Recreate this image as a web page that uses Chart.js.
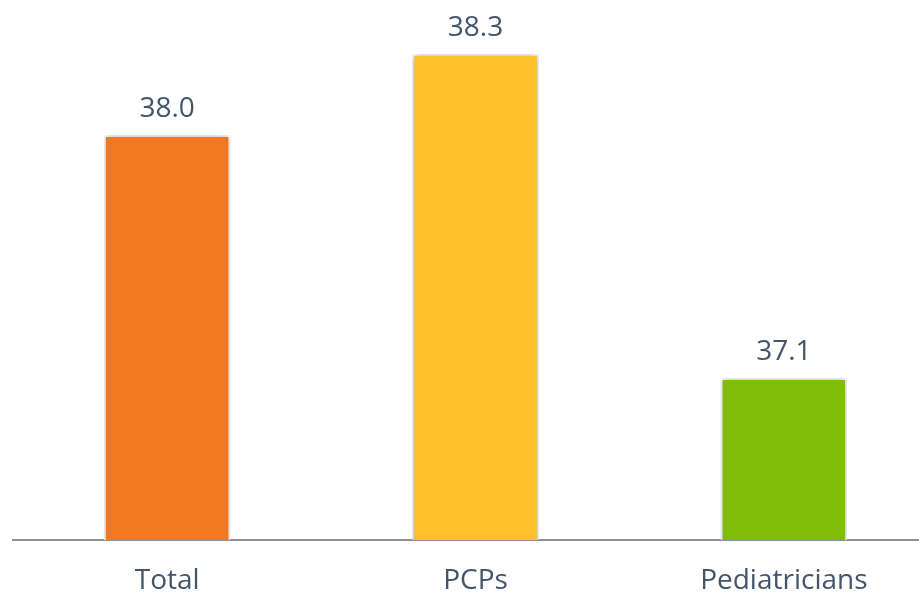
<!DOCTYPE html>
<html>
<head>
<meta charset="utf-8">
<script src="https://cdn.jsdelivr.net/npm/chart.js@4/dist/chart.umd.min.js"></script>
<style>
html,body{margin:0;padding:0;background:#fff;overflow:hidden;width:919px;height:593px;}
canvas{display:block;}
</style>
</head>
<body>
<canvas id="c" width="938" height="593"></canvas>
<script>
const categories = ["Total", "PCPs", "Pediatricians"];
const values = [38.0, 38.3, 37.1];
const barColors = ["#F47721", "#FFC02B", "#7FBD08"];
const valueLabels = ["38.0", "38.3", "37.1"];

const textColor = "#44546A";
const fontFamily = "'Open Sans', 'Liberation Sans', sans-serif";

const shadowPlugin = {
  id: 'shadow',
  beforeDatasetsDraw(chart) {
    const ctx = chart.ctx;
    ctx.save();
    ctx.shadowColor = 'rgba(0,0,0,0.35)';
    ctx.shadowBlur = 7;
    ctx.shadowOffsetX = 0;
    ctx.shadowOffsetY = 0;
  },
  afterDatasetsDraw(chart) {
    chart.ctx.restore();
  }
};

const labelPlugin = {
  id: 'valueLabels',
  afterDraw(chart) {
    const ctx = chart.ctx;
    const meta = chart.getDatasetMeta(0);
    ctx.save();
    ctx.font = "28px " + fontFamily;
    ctx.fillStyle = textColor;
    ctx.textAlign = 'center';
    ctx.textBaseline = 'alphabetic';
    meta.data.forEach((bar, i) => {
      ctx.fillText(valueLabels[i], bar.x, bar.y - 18);
    });
    ctx.restore();
  }
};

new Chart(document.getElementById('c'), {
  type: 'bar',
  data: {
    labels: categories,
    datasets: [{
      data: values,
      backgroundColor: barColors,
      borderColor: '#ffffff',
      borderWidth: 2,
      borderSkipped: false,
      categoryPercentage: 1,
      barPercentage: 0.41
    }]
  },
  options: {
    responsive: false,
    animation: false,
    layout: { padding: { left: 13, right: 0, top: 0, bottom: -28.6 } },
    plugins: { legend: { display: false }, tooltip: { enabled: false } },
    scales: {
      x: {
        grid: { display: false, drawTicks: false },
        border: { display: true, color: '#8E9094', width: 2 },
        ticks: { color: textColor, font: { family: fontFamily, size: 28 }, padding: 24, maxRotation: 0, autoSkip: false }
      },
      y: {
        display: false,
        min: 36.5,
        max: 38.5
      }
    }
  },
  plugins: [shadowPlugin, labelPlugin]
});
</script>
</body>
</html>
